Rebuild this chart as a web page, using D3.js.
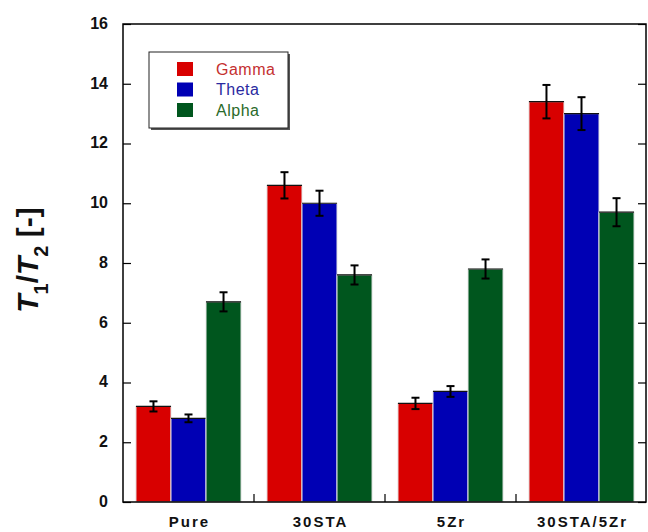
<!DOCTYPE html>
<html>
<head>
<meta charset="utf-8">
<script src="https://cdn.jsdelivr.net/npm/d3@7"></script>
<style>
  html, body { margin: 0; padding: 0; background: #fff; }
  svg { display: block; font-family: Arial, "Liberation Sans", sans-serif; }
</style>
</head>
<body>
<svg id="chart" width="648" height="532"></svg>
<script>
// Samples and phases
const categories = ["Pure", "30STA", "5Zr", "30STA/5Zr"];
const seriesNames = ["Gamma", "Theta", "Alpha"];

// T1/T2 ratio per sample, one array per phase
const gammaValues = [3.2, 10.6, 3.3, 13.4];
const thetaValues = [2.8, 10.0, 3.7, 13.0];
const alphaValues = [6.7, 7.6, 7.8, 9.7];

// Error bar half-widths
const gammaErrors = [0.17, 0.44, 0.19, 0.56];
const thetaErrors = [0.13, 0.42, 0.18, 0.55];
const alphaErrors = [0.32, 0.32, 0.32, 0.47];

const yTicks = [0, 2, 4, 6, 8, 10, 12, 14, 16];

const fills = ["#d80000", "#0000b4", "#00561e"];
const textColors = ["#c43030", "#2a2aa0", "#2a6a2a"];

const series = [
  { name: seriesNames[0], values: gammaValues, errors: gammaErrors },
  { name: seriesNames[1], values: thetaValues, errors: thetaErrors },
  { name: seriesNames[2], values: alphaValues, errors: alphaErrors }
];

const svg = d3.select("#chart");
const margin = { left: 123, top: 24, right: 1, bottom: 30 };
const W = 648, H = 532;
const x0 = margin.left, x1 = W - margin.right;
const y0 = H - margin.bottom, y1 = margin.top;

const x = d3.scaleBand().domain(categories).range([x0, x1]).paddingInner(0).paddingOuter(0);
const xs = d3.scaleBand().domain(seriesNames).range([0, x.bandwidth()]).paddingOuter(0.37).paddingInner(0);
const y = d3.scaleLinear().domain([0, 16]).range([y0, y1]);

// Bars
const groups = svg.append("g").selectAll("g")
  .data(categories)
  .join("g")
  .attr("transform", c => `translate(${x(c)},0)`);

groups.each(function(c, ci) {
  const g = d3.select(this);
  series.forEach((s, si) => {
    const bx = xs(s.name), bw = xs.bandwidth();
    const v = s.values[ci];
    g.append("rect")
      .attr("x", bx).attr("y", y(v))
      .attr("width", bw).attr("height", y(0) - y(v))
      .attr("fill", fills[si])
      .attr("stroke", "#e6e6e6").attr("stroke-width", 1);
    g.append("line")
      .attr("x1", bx).attr("x2", bx + bw)
      .attr("y1", y(v)).attr("y2", y(v))
      .attr("stroke", "#111").attr("stroke-width", 1.2);
  });
});

// Error bars
groups.each(function(c, ci) {
  const g = d3.select(this);
  series.forEach(s => {
    const cx = xs(s.name) + xs.bandwidth() / 2;
    const v = s.values[ci], e = s.errors[ci];
    const ey1 = y(v + e), ey2 = y(v - e);
    g.append("line").attr("x1", cx).attr("x2", cx).attr("y1", ey1).attr("y2", ey2)
      .attr("stroke", "#000").attr("stroke-width", 2);
    [ey1, ey2].forEach(yy => g.append("line")
      .attr("x1", cx - 4).attr("x2", cx + 4).attr("y1", yy).attr("y2", yy)
      .attr("stroke", "#000").attr("stroke-width", 2));
  });
});

// Left axis with inward ticks
const leftAxis = d3.axisRight(y).tickValues(yTicks).tickSize(8).tickFormat("");
svg.append("g").attr("transform", `translate(${x0},0)`).call(leftAxis)
  .call(g => g.select(".domain").remove())
  .selectAll("line").attr("stroke", "#000").attr("stroke-width", 1.2);

// Right axis with inward ticks
const rightAxis = d3.axisLeft(y).tickValues(yTicks).tickSize(8).tickFormat("");
svg.append("g").attr("transform", `translate(${x1 - 1},0)`).call(rightAxis)
  .call(g => g.select(".domain").remove())
  .selectAll("line").attr("stroke", "#000").attr("stroke-width", 1.2);

// Tick labels
svg.append("g").selectAll("text")
  .data(yTicks)
  .join("text")
  .attr("x", 108).attr("y", d => y(d))
  .attr("dy", "0.3em")
  .attr("text-anchor", "end")
  .attr("font-size", 16).attr("font-weight", "bold")
  .attr("fill", "#111")
  .text(d => d);

// Category separators along the bottom
svg.append("g").selectAll("line")
  .data(categories.slice(1))
  .join("line")
  .attr("x1", c => x(c)).attr("x2", c => x(c))
  .attr("y1", y0).attr("y2", y0 - 8)
  .attr("stroke", "#000").attr("stroke-width", 1.2);

// Category labels
svg.append("g").selectAll("text")
  .data(categories)
  .join("text")
  .attr("x", c => x(c) + x.bandwidth() / 2 + 1)
  .attr("y", 527)
  .attr("text-anchor", "middle")
  .attr("font-size", 15).attr("font-weight", "bold")
  .attr("letter-spacing", "2px")
  .attr("fill", "#111")
  .text(c => c);

// Plot frame
svg.append("rect")
  .attr("x", x0).attr("y", y1)
  .attr("width", x1 - x0 - 1).attr("height", y0 - y1)
  .attr("fill", "none").attr("stroke", "#000").attr("stroke-width", 1.5);

// Y axis title: T1/T2 [-]
const yTitle = svg.append("text")
  .attr("transform", "translate(38,260) rotate(-90)")
  .attr("text-anchor", "middle")
  .attr("font-size", 30).attr("font-weight", "bold")
  .attr("fill", "#111");
yTitle.append("tspan").attr("font-style", "italic").text("T");
yTitle.append("tspan").attr("font-size", 20).attr("dy", 10).text("1");
yTitle.append("tspan").attr("dy", -10).text("/");
yTitle.append("tspan").attr("font-style", "italic").text("T");
yTitle.append("tspan").attr("font-size", 20).attr("dy", 10).text("2");
yTitle.append("tspan").attr("dy", -10).text(" [-]");

// Legend
const legend = svg.append("g").attr("transform", "translate(149,52)");
legend.append("rect").attr("x", 2).attr("y", 2).attr("width", 139).attr("height", 76)
  .attr("fill", "#555");
legend.append("rect").attr("x", 0).attr("y", 0).attr("width", 139).attr("height", 76)
  .attr("fill", "#fff").attr("stroke", "#222").attr("stroke-width", 1);
series.forEach((s, i) => {
  const ry = 17 + i * 20.5;
  legend.append("rect").attr("x", 28).attr("y", ry - 7).attr("width", 16).attr("height", 14)
    .attr("fill", fills[i]);
  legend.append("text").attr("x", 67).attr("y", ry).attr("dy", "0.36em")
    .attr("font-size", 16).attr("letter-spacing", "0.5px").attr("fill", textColors[i])
    .text(s.name);
});
</script>
</body>
</html>
